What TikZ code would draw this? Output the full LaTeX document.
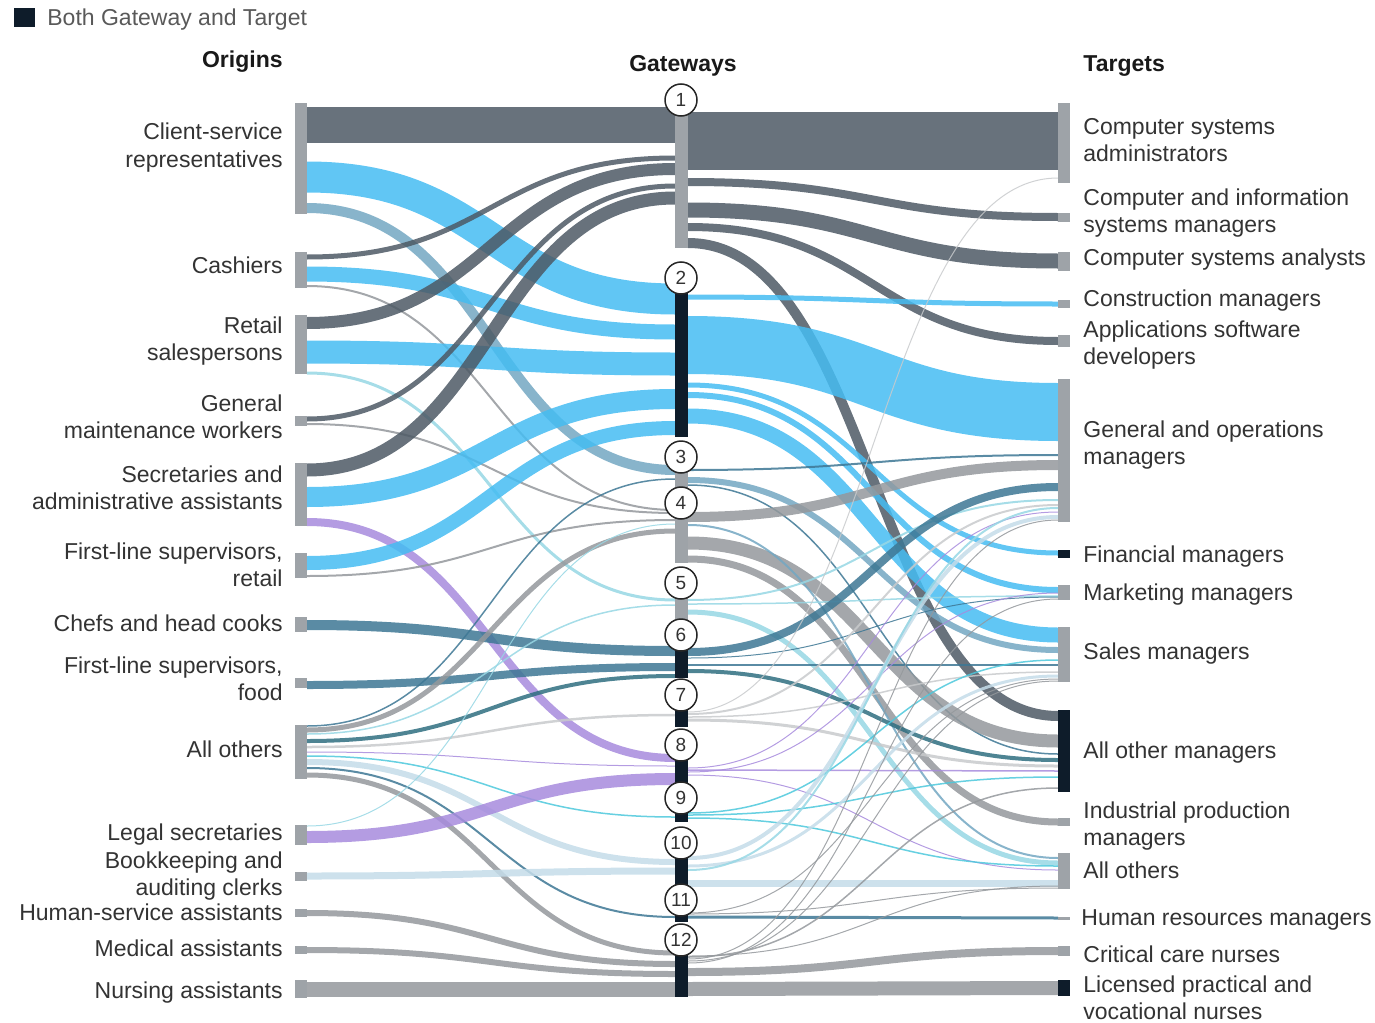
\documentclass[tikz,border=0pt]{standalone}
\usepackage{fontspec}
\setmainfont{Liberation Sans}
\usetikzlibrary{fit}
\pgfdeclarelayer{flows}
\pgfsetlayers{flows,main}

\definecolor{barg}{HTML}{9EA3A8}
\definecolor{navy}{HTML}{0E1C2A}
\definecolor{slate}{HTML}{4D5965}
\definecolor{sky}{HTML}{45BCF2}
\definecolor{lsteel}{HTML}{73A7C2}
\definecolor{steel}{HTML}{3D7794}
\definecolor{dteal}{HTML}{2F6E80}
\definecolor{gray}{HTML}{94989C}
\definecolor{lgray}{HTML}{C8CACC}
\definecolor{lcyan}{HTML}{97D7E4}
\definecolor{cyan}{HTML}{4CC8DC}
\definecolor{pblue}{HTML}{C4DCE9}
\definecolor{purple}{HTML}{A78BDD}
\definecolor{txt}{HTML}{333333}

\newcommand{\labfont}{\fontsize{11.5}{13.5}\selectfont}

\tikzset{
	pillar/.style={fill=barg, draw=none, inner sep=0pt, outer sep=0pt},
	darkpillar/.style={pillar, fill=navy},
	gwcirc/.style={circle, draw=black!85, line width=0.75pt, fill=white, minimum size=16pt, inner sep=0pt, text=txt, font=\fontsize{9.5}{9.5}\selectfont},
	orilab/.style={anchor=base east, align=right, inner sep=0pt, text=txt, font=\labfont},
	tarlab/.style={anchor=base west, align=left, inner sep=0pt, text=txt, font=\labfont},
	twoline/.style={yshift=-13.5pt},
	head/.style={inner sep=0pt, text=black!90, font=\labfont\bfseries},
	flow/.style={opacity=0.85, line cap=butt}
}

\begin{document}
\begin{tikzpicture}[x=0.5pt, y=-0.5pt]
	\useasboundingbox (0,0) rectangle (1375,1022);

	% legend and column heads
	\node[darkpillar, fit={(14,8) (35,27)}] (key) {};
	\node[anchor=base west, inner sep=0pt, text=black!65, font=\labfont] (keylab) at (47,26) {Both Gateway and Target};
	\node[head, anchor=base east] (hori) at (283,68) {Origins};
	\node[head, anchor=base] (hgw) at (683,72) {Gateways};
	\node[head, anchor=base west] (htar) at (1083,72) {Targets};

	% origin bars
	\foreach \nm/\a/\b in {ocs/103/214, oca/252/288, ors/315/374, ogm/416/426, osa/463/526, ofr/553/578, och/617/632,
		off/678/688, oao/725/779, ols/825/845, obk/872/881, ohs/909/917, oma/946/954, ona/980/998}
		\node[pillar, fit={(295,\a) (307,\b)}] (\nm) {};

	% gateway bar
	\foreach \nm/\a/\b/\st in {s1/113/248/pillar, s2/293/437/darkpillar, s3/470/490/pillar, s4/515/563/pillar,
		s5/598/620/pillar, s6/650/678/darkpillar, s7/708/727/darkpillar, s8/758/785/darkpillar,
		s9/812/822/darkpillar, s10/855/885/darkpillar, s11/912/922/darkpillar, s12/952/997/darkpillar}
		\node[\st, fit={(675,\a) (688,\b)}] (\nm) {};

	% target bars
	\foreach \nm/\a/\b/\st in {tcsa/103/183/pillar, tcim/213/222/pillar, tcsan/252/271/pillar, tcon/300/308/pillar,
		tapp/335/347/pillar, tgo/379/522/pillar, tfin/550/558/darkpillar, tmkt/585/600/pillar, tsal/627/682/pillar,
		taom/710/792/darkpillar, tind/818/826/pillar, tao/853/889/pillar, thr/917/920/pillar, tcc/946/956/pillar,
		tlpn/980/996/darkpillar}
		\node[\st, fit={(1058,\a) (1070,\b)}] (\nm) {};

	\foreach \n/\y in {1/100, 2/278, 3/457, 4/503, 5/583, 6/635, 7/695, 8/745, 9/798, 10/843, 11/900, 12/940}
		\node[gwcirc] (g\n) at (681,\y) {\n};

	% origin labels
	\node[orilab, twoline] (lcs) at (283,140) {Client-service\\representatives};
	\node[orilab] (lca) at (283,273) {Cashiers};
	\node[orilab, twoline] (lrs) at (283,333) {Retail\\salespersons};
	\node[orilab, twoline] (lgm) at (283,411) {General\\maintenance workers};
	\node[orilab, twoline] (lsa) at (283,482) {Secretaries and\\administrative assistants};
	\node[orilab, twoline] (lfr) at (283,559) {First-line supervisors,\\retail};
	\node[orilab] (lch) at (283,631) {Chefs and head cooks};
	\node[orilab, twoline] (lff) at (283,673) {First-line supervisors,\\food};
	\node[orilab] (lao) at (283,757) {All others};
	\node[orilab] (lls) at (283,840) {Legal secretaries};
	\node[orilab, twoline] (lbk) at (283,868) {Bookkeeping and\\auditing clerks};
	\node[orilab] (lhs) at (283,920) {Human-service assistants};
	\node[orilab] (lma) at (283,956) {Medical assistants};
	\node[orilab] (lna) at (283,998) {Nursing assistants};

	% target labels
	\node[tarlab, twoline] (mcsa) at (1083,135) {Computer systems\\administrators};
	\node[tarlab, twoline] (mcim) at (1083,205) {Computer and information\\systems managers};
	\node[tarlab] (mcsan) at (1083,265) {Computer systems analysts};
	\node[tarlab] (mcon) at (1083,306) {Construction managers};
	\node[tarlab, twoline] (mapp) at (1083,337) {Applications software\\developers};
	\node[tarlab, twoline] (mgo) at (1083,437) {General and operations\\managers};
	\node[tarlab] (mfin) at (1083,562) {Financial managers};
	\node[tarlab] (mmkt) at (1083,600) {Marketing managers};
	\node[tarlab] (msal) at (1083,659) {Sales managers};
	\node[tarlab] (maom) at (1083,758) {All other managers};
	\node[tarlab, twoline] (mind) at (1083,818) {Industrial production\\managers};
	\node[tarlab] (mao) at (1083,878) {All others};
	\node[tarlab] (mhr) at (1081,925) {Human resources managers};
	\node[tarlab] (mcc) at (1083,962) {Critical care nurses};
	\node[tarlab, twoline] (mlpn) at (1083,992) {Licensed practical and\\vocational nurses};

	\begin{pgfonlayer}{flows}
	% origins to gateways
	\foreach \col/\a/\y/\b/\z/\w in {slate/ocs/125/s1/125/36, sky/ocs/177/s2/299/31, lsteel/ocs/208/s3/470/10,
		slate/oca/257/s1/158/5, sky/oca/274/s2/332/15, gray/oca/286/s4/510/2,
		slate/ors/323/s1/169/12, sky/ors/352/s2/364/23, lcyan/ors/373/s5/600/3,
		slate/ogm/419/s1/186/5, gray/ogm/424/s4/513/2,
		slate/osa/470/s1/198/13, sky/osa/497/s2/399/20, purple/osa/522/s8/758/8,
		sky/ofr/563/s2/428/14, gray/ofr/576/s4/520/2,
		steel/och/625/s6/651/10, steel/off/685/s6/667/8,
		gray/oao/730/s4/531/5, steel/oao/726/s3/479/1.5, lcyan/oao/734/s5/605/1.5, dteal/oao/741/s6/676/4,
		lgray/oao/747/s7/715/2.5, purple/oao/752/s8/766/1, cyan/oao/756/s9/817/1.5, pblue/oao/762/s10/862/6,
		steel/oao/768/s11/917/2, gray/oao/775/s12/953/5,
		purple/ols/837/s8/779/12, lcyan/ols/826/s4/524/1, pblue/obk/876/s10/871/7,
		gray/ohs/913/s12/964/6, gray/oma/950/s12/974/6, gray/ona/989/s12/989/15}
		\draw[flow, draw=\col, line width=\w*0.5pt] (\a.east |- 0,\y) .. controls +(184,0) and +(-184,0) .. (\b.west |- 0,\z);

	% gateways to targets
	\foreach \col/\a/\y/\b/\z/\w in {slate/s1/141/tcsa/141/57, slate/s1/182/tcim/217/8, slate/s1/210/tcsan/261/15,
		slate/s1/227/tapp/341/8, slate/s1/243/taom/716/10,
		sky/s2/297/tcon/304/5, sky/s2/345/tgo/412/58, sky/s2/385/tfin/553/5, sky/s2/395/tmkt/590/6, sky/s2/416/tsal/635/15,
		steel/s3/470/tgo/455/2, lsteel/s3/480/tsal/650/6, steel/s3/485/taom/754/1.5,
		gray/s4/517/tgo/465/10, gray/s4/543/taom/741/13, gray/s4/559/tind/822/7, lsteel/s4/525/tao/858/2,
		lcyan/s5/600/tgo/500/2, lcyan/s5/604/tmkt/596/1.5, lcyan/s5/612/tao/863/5,
		steel/s6/652/tgo/487/8, steel/s6/665/tsal/665/2, dteal/s6/671/taom/760/4, steel/s6/658/tmkt/597/1,
		lgray/s7/714/tgo/505/2, lgray/s7/720/taom/766/3, lgray/s7/717/tsal/672/1.5, lgray/s7/712/tcsa/178/1,
		purple/s8/770/taom/771/1.5, purple/s8/768/tgo/512/1, purple/s8/775/tao/870/1, purple/s8/772/tmkt/593/1,
		cyan/s9/815/taom/777/1.5, cyan/s9/818/tao/866/1.5, cyan/s9/813/tsal/660/1.5,
		pblue/s10/883/tao/883/7, pblue/s10/858/tgo/517/4, pblue/s10/866/tsal/676/3, lcyan/s10/870/tgo/508/2,
		steel/s11/917/thr/918/3, gray/s11/914/tao/888/1, gray/s11/913/tsal/679/1,
		gray/s12/957/taom/788/1.5, gray/s12/959/tgo/520/1, gray/s12/961/tsal/681/1, gray/s12/963/tmkt/599/1,
		gray/s12/956/tao/886/1, gray/s12/972/tcc/951/8, gray/s12/989/tlpn/988/14}
		\draw[flow, draw=\col, line width=\w*0.5pt] (\a.east |- 0,\y) .. controls +(185,0) and +(-185,0) .. (\b.west |- 0,\z);
	\end{pgfonlayer}
\end{tikzpicture}
\end{document}
